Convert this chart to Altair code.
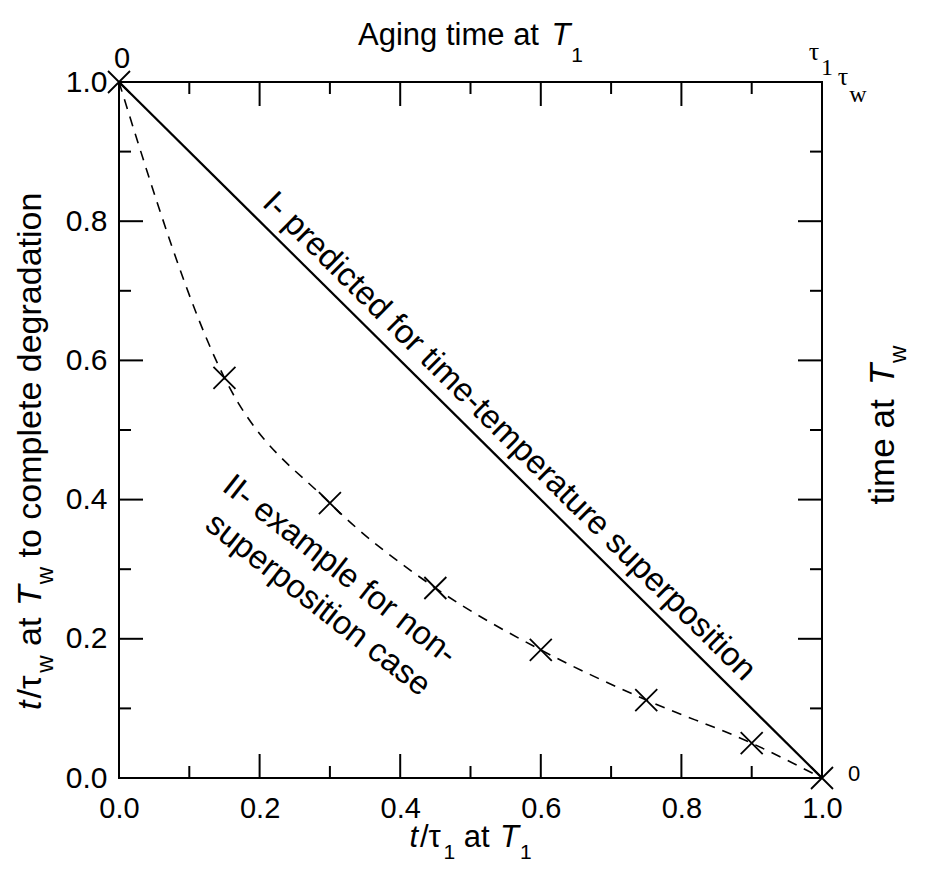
import altair as alt
import pandas as pd

# ---------------- data ----------------
tick_labels = [0.0, 0.2, 0.4, 0.6, 0.8, 1.0]
inner_major = [0.2, 0.4, 0.6, 0.8]
inner_minor = [0.1, 0.3, 0.5, 0.7, 0.9]

line_x = [0.0, 1.0]
line_y = [1.0, 0.0]

curve_x = [0.0, 0.15, 0.30, 0.45, 0.60, 0.75, 0.90, 1.0]
curve_y = [1.0, 0.575, 0.395, 0.273, 0.184, 0.112, 0.050, 0.0]

anno1_text = "I- predicted for time-temperature superposition"
anno2_lines = ["II- example for non-", "superposition case"]

# ---------------- layout ----------------
W, H = 703, 696
FONT = "Liberation Sans"
SERIF = "Liberation Serif"
MAJ, MIN = 24, 12

AW = {' ': .278, 'a': .556, 'b': .556, 'c': .5, 'd': .556, 'e': .556, 'f': .278,
      'g': .556, 'h': .556, 'i': .222, 'l': .222, 'm': .833, 'n': .556, 'o': .556,
      'p': .556, 'r': .333, 's': .5, 't': .34, 'u': .556, 'w': .722, 'x': .5,
      'A': .667, 'T': .64, 'I': .278, '/': .278, '-': .333, 'τ': .48, '1': .556, '0': .556}


def tw(s, size):
    return sum(AW.get(c, .556) for c in s) * size


def one():
    return alt.Data(values=[{}])


def pieces(parts, x, y, angle=0, start=False):
    """parts: (text, size, italic, dy). Centered on (x, y) along text direction
    (or starting there when start=True)."""
    total = sum(tw(t, s) for t, s, _, _ in parts)
    off = 0 if start else -total / 2
    out = []
    for t, s, it, dy in parts:
        lead = len(t) - len(t.lstrip(' '))
        body = t.strip(' ')
        kw = dict(text=body, font=FONT, fontSize=s, fontStyle="italic" if it else "normal",
                  align="left", baseline="alphabetic", dx=off + tw(' ' * lead, s), dy=dy,
                  color="black")
        if angle:
            kw["angle"] = angle
        out.append(alt.Chart(one()).mark_text(**kw).encode(x=alt.value(x), y=alt.value(y)))
        off += tw(t, s)
    return out


xscale = alt.Scale(domain=[0, 1], nice=False, zero=False)
yscale = alt.Scale(domain=[0, 1], nice=False, zero=False)
xaxis = alt.Axis(values=tick_labels, format=".1f", labelFontSize=29, labelFont=FONT,
                 labelColor="black", labelPadding=16, ticks=False, domain=False,
                 grid=False, title=None, labelFlush=False, labelOverlap=False)
yaxis = alt.Axis(values=tick_labels, format=".1f", labelFontSize=30, labelFont=FONT,
                 labelColor="black", labelPadding=12, ticks=False, domain=False,
                 grid=False, title=None, labelFlush=False, labelOverlap=False)


def X(f):
    return alt.X(f, type="quantitative", scale=xscale, axis=xaxis)


def Y(f):
    return alt.Y(f, type="quantitative", scale=yscale, axis=yaxis)


layers = []

# solid line I
df_line = pd.DataFrame({"x": line_x, "y": line_y})
layers.append(alt.Chart(df_line).mark_line(color="black", strokeWidth=2.2).encode(x=X("x"), y=Y("y")))

# dashed curve II with X markers
df_curve = pd.DataFrame({"x": curve_x, "y": curve_y})
layers.append(alt.Chart(df_curve).mark_line(color="black", strokeWidth=1.6, strokeDash=[10, 8],
                                            interpolate="monotone").encode(x=X("x"), y=Y("y")))
layers.append(alt.Chart(df_curve).mark_point(shape="M -1 -1 L 1 1 M -1 1 L 1 -1", size=484,
                                             filled=False, color="black", strokeWidth=1.8,
                                             opacity=1).encode(x=X("x"), y=Y("y")))

# inward ticks on all four sides
df_maj = pd.DataFrame({"v": inner_major})
df_min = pd.DataFrame({"v": inner_minor})
for df, L in ((df_maj, MAJ), (df_min, MIN)):
    base = alt.Chart(df).mark_rule(color="black", strokeWidth=2)
    layers.append(base.encode(x=X("v"), y=alt.value(H), y2=alt.value(H - L)))
    layers.append(base.encode(x=X("v"), y=alt.value(0), y2=alt.value(L)))
    layers.append(base.encode(y=Y("v"), x=alt.value(0), x2=alt.value(L)))
    layers.append(base.encode(y=Y("v"), x=alt.value(W), x2=alt.value(W - L)))

# annotation I (parallel to the line)
df_a1 = pd.DataFrame({"x": [0.555], "y": [0.491], "t": [anno1_text]})
layers.append(alt.Chart(df_a1).mark_text(font=FONT, fontSize=33, angle=44.7, align="center",
                                         baseline="middle", color="black")
              .encode(x=X("x"), y=Y("y"), text="t:N"))

# annotation II (two lines)
df_a2 = pd.DataFrame({"x": [0.314, 0.283], "y": [0.299, 0.249], "t": anno2_lines})
layers.append(alt.Chart(df_a2).mark_text(font=FONT, fontSize=33, angle=38, align="center",
                                         baseline="middle", color="black")
              .encode(x=X("x"), y=Y("y"), text="t:N"))

# axis titles with subscripts
layers += pieces([("Aging time at ", 31, False, 0), ("T", 31, True, 0), ("1", 21, False, 17)],
                 W / 2, -37)
layers += pieces([("t", 31, True, 0), ("/τ", 31, False, 0), ("1", 21, False, 12),
                  (" at ", 31, False, 0), ("T", 31, True, 0), ("1", 21, False, 12)],
                 W / 2, H + 69)
layers += pieces([("t", 34, True, 0), ("/τ", 34, False, 0), ("w", 24, False, 12),
                  (" at ", 34, False, 0), ("T", 34, True, 0), ("w", 24, False, 12),
                  (" to complete degradation", 34, False, 0)],
                 -78, 628, angle=270, start=True)
layers += pieces([("time at ", 35, False, 0), ("T", 35, True, 0), ("w", 24, False, 12)],
                 W + 72, H / 2 - 5, angle=270)

# corner labels
layers.append(alt.Chart(one()).mark_text(text="0", font=FONT, fontSize=29, align="center",
                                         baseline="alphabetic", color="black")
              .encode(x=alt.value(3), y=alt.value(-14)))
layers.append(alt.Chart(one()).mark_text(text="0", font=FONT, fontSize=22, align="left",
                                         baseline="middle", color="black")
              .encode(x=alt.value(W + 26), y=alt.value(H - 4)))
for t, s, dx, dy in (("τ", 26, -8, -30), ("1", 24, 5, -14), ("τ", 26, 21, -5), ("w", 24, 36, 13)):
    layers.append(alt.Chart(one()).mark_text(text=t, font=SERIF, fontSize=s, align="center",
                                             baseline="middle", color="black")
                  .encode(x=alt.value(W + dx), y=alt.value(dy)))

chart = (alt.layer(*layers)
         .properties(width=W, height=H, autosize=alt.AutoSizeParams(type="none"),
                     padding={"left": 111, "top": 74, "right": 95, "bottom": 86})
         .configure_view(stroke="black", strokeWidth=2)
         .configure_axis(grid=False))

chart.save("out.html", embed_options={"renderer": "svg", "actions": False})
